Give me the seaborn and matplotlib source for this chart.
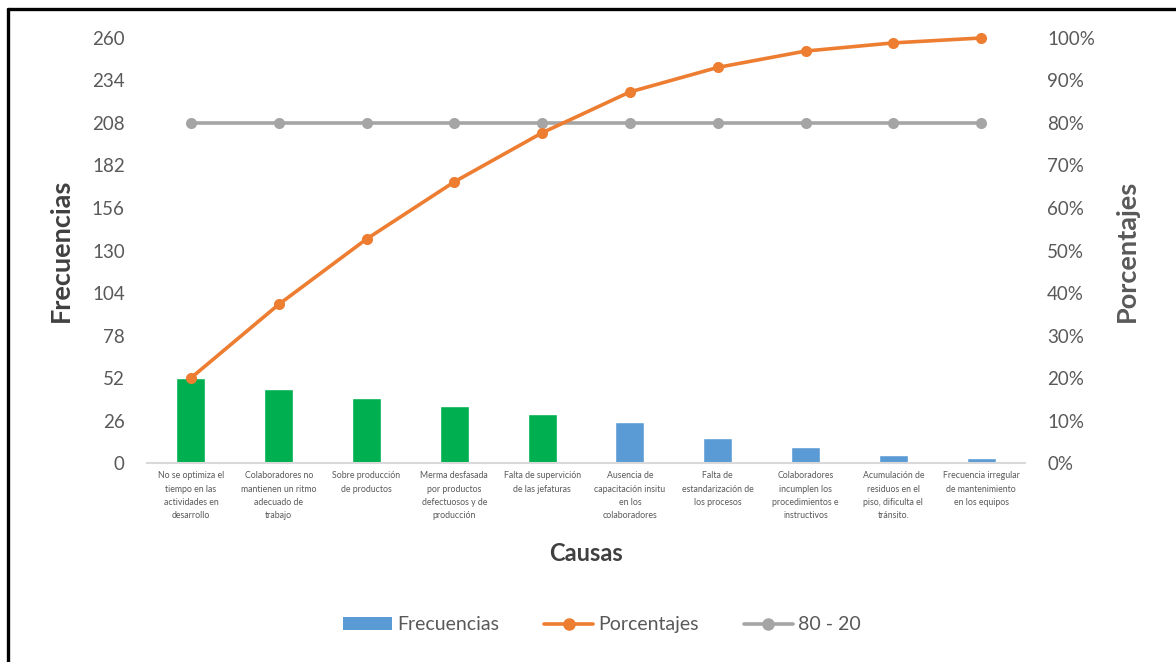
import numpy as np
import pandas as pd
import matplotlib
matplotlib.use("Agg")
import matplotlib.pyplot as plt
from matplotlib.lines import Line2D
from matplotlib.patches import Patch
import seaborn as sns

# --- data -------------------------------------------------------------
causas = [
    "No se optimiza el\ntiempo en las\nactividades en\ndesarrollo",
    "Colaboradores no\nmantienen un ritmo\nadecuado de\ntrabajo",
    "Sobre producción\nde productos",
    "Merma desfasada\npor productos\ndefectuosos y de\nproducción",
    "Falta de supervición\nde las jefaturas",
    "Ausencia de\ncapacitación insitu\nen los\ncolaboradores",
    "Falta de\nestandarización de\nlos procesos",
    "Colaboradores\nincumplen los\nprocedimientos e\ninstructivos",
    "Acumulación de\nresiduos en el\npiso, dificulta el\ntránsito.",
    "Frecuencia irregular\nde mantenimiento\nen los equipos",
]
frecuencias = [52, 45, 40, 35, 30, 25, 15, 10, 5, 3]
grupo = ["vital"] * 5 + ["trivial"] * 5
corte_80_20 = [80] * 10
left_ticks = [0, 26, 52, 78, 104, 130, 156, 182, 208, 234, 260]
right_ticks = [0, 10, 20, 30, 40, 50, 60, 70, 80, 90, 100]

total = sum(frecuencias)
porcentajes = list(np.cumsum(frecuencias) / total * 100)

df = pd.DataFrame({
    "pos": np.arange(len(causas)),
    "causa": causas,
    "frecuencia": frecuencias,
    "grupo": grupo,
    "porcentaje": porcentajes,
    "corte": corte_80_20,
})

# --- style ------------------------------------------------------------
sns.set_theme(style="white")
plt.rcParams["font.family"] = ["Lato", "DejaVu Sans"]

GREEN = "#00B050"
BLUE = "#5B9BD5"
ORANGE = "#ED7D31"
GRAY = "#A5A5A5"
TXT = "#595959"
DARK = "#404040"

fig = plt.figure(figsize=(11.76, 6.62), dpi=100)
ax = fig.add_axes([0.125, 0.3006, 0.7466, 0.642])

sns.barplot(data=df, x="pos", y="frecuencia", hue="grupo",
            palette={"vital": GREEN, "trivial": BLUE}, dodge=False,
            width=0.33, legend=False, ax=ax, saturation=1)

ax.set_ylim(0, 260)
ax.set_xlim(-0.5, len(causas) - 0.5)
ax.set_yticks(left_ticks)
ax.set_yticklabels([str(t) for t in left_ticks], fontsize=13.5, color=TXT)
ax.set_xticks(range(len(causas)))
ax.set_xticklabels(causas, fontsize=6.3, color=TXT, linespacing=1.6)
ax.tick_params(axis="y", length=0, pad=16)
ax.tick_params(axis="x", length=0, pad=6)
for s in ["top", "right", "left"]:
    ax.spines[s].set_visible(False)
ax.spines["bottom"].set_color("#D9D9D9")
ax.spines["bottom"].set_linewidth(1.5)
ax.set_ylabel("Frecuencias", fontsize=19.5, fontweight="bold", color=DARK,
              labelpad=14)
ax.set_xlabel("Causas", fontsize=17, fontweight="bold", color=DARK,
              labelpad=16)

ax2 = ax.twinx()
sns.lineplot(data=df, x="pos", y="corte", color=GRAY, linewidth=2.6,
             marker="o", markersize=8, markeredgewidth=0, ax=ax2,
             legend=False, clip_on=False)
sns.lineplot(data=df, x="pos", y="porcentaje", color=ORANGE, linewidth=2.6,
             marker="o", markersize=8, markeredgewidth=0, ax=ax2,
             legend=False, clip_on=False)
ax2.set_ylim(0, 100)
ax2.set_xlim(-0.5, len(causas) - 0.5)
ax2.set_yticks(right_ticks)
ax2.set_yticklabels([f"{t}%" for t in right_ticks], fontsize=13.5, color=TXT)
ax2.tick_params(axis="y", length=0, pad=16)
for s in ["top", "right", "left", "bottom"]:
    ax2.spines[s].set_visible(False)
ax2.set_ylabel("Porcentajes", fontsize=19.5, fontweight="bold", color=TXT,
               labelpad=14)
ax2.grid(False)
ax.grid(False)

handles = [
    Patch(facecolor=BLUE, edgecolor="none"),
    Line2D([], [], color=ORANGE, linewidth=2.6, marker="o", markersize=8),
    Line2D([], [], color=GRAY, linewidth=2.6, marker="o", markersize=8),
]
fig.legend(handles, ["Frecuencias", "Porcentajes", "80 - 20"],
           loc="center", bbox_to_anchor=(0.512, 0.056), ncol=3, frameon=False,
           fontsize=14, labelcolor=TXT, handlelength=2.5,
           handletextpad=0.3, columnspacing=2.3)

# frame around the chart (top and left edges)
fig.add_artist(Line2D([8 / 1176, 1.0], [1 - 9 / 662, 1 - 9 / 662],
                      transform=fig.transFigure, color="black", linewidth=2.4))
fig.add_artist(Line2D([8 / 1176, 8 / 1176], [0.0, 1 - 9 / 662],
                      transform=fig.transFigure, color="black", linewidth=2.4))

fig.savefig("out.png", dpi=100, facecolor="white")
